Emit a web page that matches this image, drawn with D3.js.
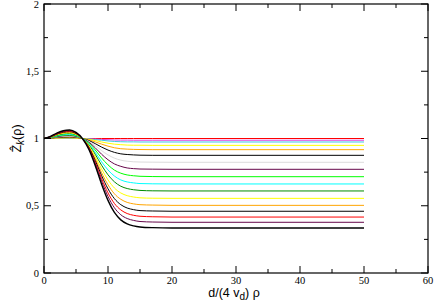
<!DOCTYPE html>
<html>
<head>
<meta charset="utf-8">
<script src="https://cdn.jsdelivr.net/npm/d3@7"></script>
<style>
  body { margin: 0; background: #fff; }
  svg text { fill: #000; }
  .tick-label { font-family: "Liberation Serif", "Times New Roman", serif; font-size: 10.5px; }
  .axis-title { font-family: "Liberation Sans", Arial, sans-serif; font-size: 12.5px; }
</style>
</head>
<body>
<svg id="chart" width="436" height="307"></svg>
<script>
// sample positions along d/(4 v_d) rho
var xs = [0, 1, 2, 3, 4, 5, 6, 7, 8, 9, 10, 11, 12, 13, 14, 15, 17, 20, 30, 50]

// one series per curve, top plateau first
var zRed1    = [1, 1, 1, 1, 1, 1, 1, 1, 1, 1, 1, 1, 1, 1, 1, 1, 1, 1, 1, 1]
var zMagenta = [1, 1.0, 1.001, 1.001, 1.001, 1.001, 1.0, 0.998, 0.996, 0.993, 0.991, 0.989, 0.988, 0.988, 0.987, 0.987, 0.987, 0.987, 0.987, 0.987]
var zTurq    = [1, 1.001, 1.002, 1.002, 1.002, 1.002, 1.0, 0.997, 0.992, 0.987, 0.982, 0.978, 0.976, 0.975, 0.975, 0.974, 0.974, 0.974, 0.974, 0.974]
var zYellow1 = [1, 1.001, 1.003, 1.004, 1.005, 1.003, 1.0, 0.994, 0.985, 0.974, 0.965, 0.958, 0.954, 0.951, 0.950, 0.950, 0.949, 0.949, 0.949, 0.949]
var zOrange1 = [1, 1.002, 1.005, 1.007, 1.008, 1.006, 1.0, 0.990, 0.975, 0.958, 0.943, 0.931, 0.924, 0.921, 0.919, 0.918, 0.917, 0.917, 0.917, 0.917]
var zBlack1  = [1, 1.003, 1.008, 1.011, 1.012, 1.009, 1.0, 0.985, 0.962, 0.936, 0.914, 0.897, 0.886, 0.881, 0.878, 0.876, 0.875, 0.875, 0.875, 0.875]
var zGrey    = [1, 1.004, 1.011, 1.015, 1.017, 1.012, 1.0, 0.979, 0.947, 0.910, 0.878, 0.854, 0.839, 0.831, 0.827, 0.825, 0.824, 0.823, 0.823, 0.823]
var zMaroon1 = [1, 1.005, 1.014, 1.020, 1.022, 1.016, 1.0, 0.973, 0.931, 0.883, 0.842, 0.811, 0.793, 0.781, 0.776, 0.773, 0.772, 0.771, 0.771, 0.771]
var zGreen   = [1, 1.007, 1.017, 1.025, 1.027, 1.019, 1.0, 0.966, 0.915, 0.855, 0.804, 0.765, 0.742, 0.729, 0.723, 0.719, 0.717, 0.716, 0.716, 0.716]
var zCyan    = [1, 1.008, 1.020, 1.029, 1.032, 1.023, 1.0, 0.959, 0.898, 0.827, 0.766, 0.721, 0.692, 0.677, 0.670, 0.665, 0.663, 0.662, 0.662, 0.662]
var zDkGreen = [1, 1.009, 1.023, 1.034, 1.037, 1.027, 1.0, 0.953, 0.883, 0.801, 0.730, 0.678, 0.645, 0.628, 0.619, 0.614, 0.611, 0.610, 0.610, 0.610]
var zYellow2 = [1, 1.010, 1.027, 1.039, 1.042, 1.030, 1.0, 0.947, 0.866, 0.773, 0.692, 0.632, 0.595, 0.575, 0.565, 0.559, 0.556, 0.555, 0.555, 0.555]
var zOrange2 = [1, 1.011, 1.030, 1.043, 1.047, 1.034, 1.0, 0.940, 0.850, 0.746, 0.656, 0.589, 0.548, 0.525, 0.514, 0.508, 0.505, 0.503, 0.503, 0.503]
var zBlack2  = [1, 1.012, 1.032, 1.047, 1.051, 1.037, 1.0, 0.935, 0.837, 0.724, 0.626, 0.553, 0.508, 0.483, 0.471, 0.464, 0.461, 0.459, 0.459, 0.459]
var zRed2    = [1, 1.013, 1.035, 1.051, 1.055, 1.040, 1.0, 0.930, 0.824, 0.702, 0.596, 0.517, 0.469, 0.442, 0.429, 0.422, 0.418, 0.416, 0.416, 0.416]
var zMaroon2 = [1, 1.014, 1.037, 1.054, 1.059, 1.042, 1.0, 0.925, 0.813, 0.682, 0.569, 0.485, 0.433, 0.405, 0.391, 0.383, 0.379, 0.377, 0.377, 0.377]
var zBlack3  = [1, 1.015, 1.040, 1.058, 1.063, 1.045, 1.0, 0.920, 0.800, 0.660, 0.540, 0.450, 0.395, 0.365, 0.350, 0.342, 0.337, 0.335, 0.335, 0.335]

var series = [
  {vals: zRed1, color: '#ff0000'},
  {vals: zMagenta, color: '#e040e0'},
  {vals: zTurq, color: '#40c8e0'},
  {vals: zYellow1, color: '#ffff00'},
  {vals: zOrange1, color: '#ffa500'},
  {vals: zBlack1, color: '#000000'},
  {vals: zGrey, color: '#dcdcdc'},
  {vals: zMaroon1, color: '#67074a'},
  {vals: zGreen, color: '#00ff00'},
  {vals: zCyan, color: '#00ffff'},
  {vals: zDkGreen, color: '#008b00'},
  {vals: zYellow2, color: '#ffff00'},
  {vals: zOrange2, color: '#ffa500'},
  {vals: zBlack2, color: '#000000'},
  {vals: zRed2, color: '#ff0000'},
  {vals: zMaroon2, color: '#67074a'},
  {vals: zBlack3, color: '#000000', width: 1.4}
]

var xMajor = [0, 10, 20, 30, 40, 50, 60]
var xMinor = [5, 15, 25, 35, 45, 55]
var yMajor = [0, 0.5, 1, 1.5, 2]
var yMinor = [0.25, 0.75, 1.25, 1.75]

var plotL = 44, plotR = 428, plotT = 4, plotB = 273

var svg = d3.select('#chart')
var x = d3.scaleLinear().domain([0, 60]).range([plotL, plotR])
var y = d3.scaleLinear().domain([0, 2]).range([plotB, plotT])

var fmt = function(d) { return String(d).replace('.', ',') }

// curves
var line = d3.line()
  .x(function(d, i) { return x(xs[i]) })
  .y(function(d) { return y(d) })
  .curve(d3.curveMonotoneX)

svg.append('g').selectAll('path')
  .data(series)
  .enter().append('path')
  .attr('d', function(s) { return line(s.vals) })
  .attr('fill', 'none')
  .attr('stroke', function(s) { return s.color })
  .attr('stroke-width', function(s) { return s.width || 1 })

// frame
svg.append('rect')
  .attr('x', plotL).attr('y', plotT)
  .attr('width', plotR - plotL).attr('height', plotB - plotT)
  .attr('fill', 'none').attr('stroke', '#000').attr('stroke-width', 1.2)

// ticks, mirrored on all four sides, pointing inward
var ticks = svg.append('g').attr('stroke', '#000').attr('stroke-width', 1)
var addXTicks = function(vals, len) {
  vals.forEach(function(v) {
    ticks.append('line').attr('x1', x(v)).attr('x2', x(v)).attr('y1', plotB).attr('y2', plotB - len)
    ticks.append('line').attr('x1', x(v)).attr('x2', x(v)).attr('y1', plotT).attr('y2', plotT + len)
  })
}
var addYTicks = function(vals, len) {
  vals.forEach(function(v) {
    ticks.append('line').attr('x1', plotL).attr('x2', plotL + len).attr('y1', y(v)).attr('y2', y(v))
    ticks.append('line').attr('x1', plotR).attr('x2', plotR - len).attr('y1', y(v)).attr('y2', y(v))
  })
}
addXTicks(xMajor, 7)
addXTicks(xMinor, 4)
addYTicks(yMajor, 7)
addYTicks(yMinor, 4)

// tick labels
svg.append('g').selectAll('text')
  .data(xMajor)
  .enter().append('text')
  .attr('class', 'tick-label')
  .attr('x', function(d) { return x(d) })
  .attr('y', plotB + 10.5)
  .attr('text-anchor', 'middle')
  .text(fmt)

svg.append('g').selectAll('text')
  .data(yMajor)
  .enter().append('text')
  .attr('class', 'tick-label')
  .attr('x', plotL - 5)
  .attr('y', function(d) { return y(d) + 3.5 })
  .attr('text-anchor', 'end')
  .text(fmt)

// axis titles
var xt = svg.append('text')
  .attr('class', 'axis-title')
  .attr('x', (plotL + plotR) / 2 - 2)
  .attr('y', 297)
  .attr('text-anchor', 'middle')
xt.append('tspan').text('d/(4 v')
xt.append('tspan').attr('dy', 3).attr('font-size', 10).text('d')
xt.append('tspan').attr('dy', -3).text(') ρ')

var yt = svg.append('text')
  .attr('class', 'axis-title')
  .attr('transform', 'translate(21,' + (plotT + plotB) / 2 + ') rotate(-90)')
  .attr('text-anchor', 'middle')
yt.append('tspan').text('Ẑ')
yt.append('tspan').attr('dy', 3).attr('font-size', 10).attr('font-style', 'italic').text('k')
yt.append('tspan').attr('dy', -3).text('(ρ)')
</script>
</body>
</html>
